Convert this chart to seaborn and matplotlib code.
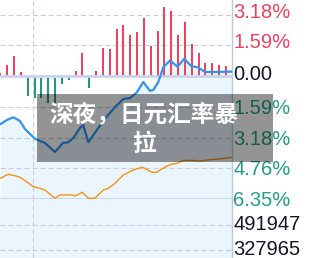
import matplotlib
matplotlib.use("Agg")
import matplotlib.pyplot as plt
import matplotlib.transforms as mtransforms
from matplotlib.patches import Rectangle
import seaborn as sns
import pandas as pd

# ---------------- data ----------------
bar_values = [0.17, 0.57, 1.03, 0.21, -1.02, -1.12, -1.12, -1.39, -1.62, -0.43,
              -0.22, 0.26, 1.20, -0.64, 0.26, 1.43, 1.39, 2.43, 2.63, 2.12,
              2.27, 2.99, 1.56, 2.32, 3.56, 3.36, 2.12, 2.79, 1.65, 1.20,
              0.66, 0.66, 0.57, 0.52]

price_t = [0.0, 0.95, 1.87, 2.85, 3.59, 5.05, 6.52, 7.98, 8.71, 9.11, 9.93, 10.66,
           11.64, 12.12, 12.37, 12.86, 14.32, 15.55, 16.76, 17.98, 18.96, 19.94,
           20.91, 21.89, 22.37, 23.10, 23.84, 24.82, 25.92, 26.90, 27.89, 28.96,
           29.94, 31.65, 33.89]
price_pct = [-2.48, -2.27, -2.13, -2.32, -2.74, -3.24, -3.46, -3.92, -3.63, -3.46,
             -3.42, -3.20, -2.68, -2.53, -2.84, -3.41, -2.68, -2.10, -1.60, -1.19,
             -1.14, -0.85, -0.31, -0.77, -0.72, -0.31, 0.46, 0.80, 0.48, 0.89,
             0.52, 0.44, 0.21, 0.21, 0.23]

avg_t = [0.0, 1.14, 2.12, 2.86, 3.84, 4.80, 5.78, 6.52, 7.98, 8.71, 10.42, 10.91,
         11.98, 12.86, 13.84, 15.05, 15.78, 16.76, 17.98, 19.21, 20.67, 21.16,
         22.14, 22.87, 23.60, 24.82, 25.80, 26.76, 28.23, 29.21, 30.67, 32.14, 33.89]
avg_pct = [-5.28, -5.07, -5.15, -5.23, -5.46, -5.71, -5.80, -5.89, -6.31, -6.14,
           -6.14, -6.20, -6.00, -6.31, -6.31, -5.89, -5.80, -5.54, -5.11, -4.89,
           -4.71, -4.77, -4.97, -4.97, -4.80, -4.57, -4.51, -4.36, -4.36, -4.39,
           -4.32, -4.28, -4.20]

pct_ticks = [3.175, 1.5875, 0.0, -1.5875, -3.175, -4.7625, -6.35]
pct_labels = ["3.18%", "1.59%", "0.00", "1.59%", "3.18%", "4.76%", "6.35%"]
vol_ticks = [491947, 327965]
vol_labels = ["491947", "327965"]
title_lines = ["深夜，日元汇率暴", "拉"]
vgrid_t = [4.8]

# ---------------- style ----------------
sns.set_style("white")
plt.rcParams["font.family"] = ["Liberation Sans", "DejaVu Sans"]
plt.rcParams["lines.scale_dashes"] = False

RED = "#f23c5c"
GREEN = "#1e9672"
RED_LBL = "#f2405e"
GREEN_LBL = "#22a083"
DARK_LBL = "#141428"
BLUE = "#2f95f5"
ORANGE = "#f7920d"
FILL = "#ebf5fe"
BAND = "#c9d5ea"
GRID = "#c6cbe0"
SPINE = "#b9c9e2"

W, H = 312, 258
fig = plt.figure(figsize=(W / 100, H / 100), dpi=100)
fig.patch.set_facecolor("white")

split = 199  # px from top
ax = fig.add_axes([0, (H - split) / H, 232 / W, split / H])
axv = fig.add_axes([0, 0, 232 / W, (H - split) / H], sharex=ax)

xlim = (-0.07, 33.89)
ylim = (-6.35, 3.924)
ax.set_xlim(*xlim)
ax.set_ylim(*ylim)
axv.set_ylim(275491, 662488)
axv.set_facecolor(FILL)
ax.set_facecolor("white")

dash = (0, (3.6, 2.2))

# fill under price line
ax.fill_between(price_t, price_pct, ylim[0], color=FILL, lw=0, zorder=1)

# grids
for y in pct_ticks:
    if y in (0.0, -6.35):
        continue
    ax.axhline(y, color=GRID, lw=0.8, ls=dash, zorder=1.5)
for y in vol_ticks:
    axv.axhline(y, color=GRID, lw=0.8, ls=dash, zorder=1.5)
for t in vgrid_t:
    ax.axvline(t, color=GRID, lw=0.8, ls=dash, zorder=1.5)
    axv.axvline(t, color=GRID, lw=0.8, ls=dash, zorder=1.5)

# bars
bx = list(range(len(bar_values)))
pos = [(x, v) for x, v in zip(bx, bar_values) if v >= 0]
neg = [(x, v) for x, v in zip(bx, bar_values) if v < 0]
ax.vlines([p[0] for p in pos], 0, [p[1] for p in pos], color=RED, lw=1.4, zorder=2)
ax.vlines([p[0] for p in neg], 0, [p[1] for p in neg], color=GREEN, lw=1.4, zorder=2)

# bands
ax.axhline(0, color=BAND, lw=2.0, zorder=3)
ax.axhline(-6.35, color=BAND, lw=2.2, zorder=3, clip_on=False)

# lines
df_p = pd.DataFrame({"t": price_t, "v": price_pct})
df_a = pd.DataFrame({"t": avg_t, "v": avg_pct})
sns.lineplot(data=df_a, x="t", y="v", ax=ax, color=ORANGE, lw=1.0,
             sort=False, estimator=None, zorder=4)
sns.lineplot(data=df_p, x="t", y="v", ax=ax, color=BLUE, lw=1.6,
             sort=False, estimator=None, zorder=5)

for a in (ax, axv):
    a.set_xlabel("")
    a.set_ylabel("")
    a.set_xticks([])
    a.set_yticks([])
    for s in ("top", "left", "bottom"):
        a.spines[s].set_visible(False)
    a.spines["right"].set_visible(True)
    a.spines["right"].set_color(SPINE)
    a.spines["right"].set_linewidth(1.0)

# right labels
fs = 14.5
cap_half = 0.716 * fs * (100 / 72) / 2  # px
def place(a, y, text, color, dy_px=0.0):
    tr = mtransforms.blended_transform_factory(a.transAxes, a.transData)
    off = mtransforms.ScaledTranslation(1.5 / 100, (dy_px - cap_half) / 100,
                                        fig.dpi_scale_trans)
    a.text(1.0, y, text, transform=tr + off, ha="left", va="baseline",
           fontsize=fs, color=color, clip_on=False, zorder=6)

for y, lbl in zip(pct_ticks, pct_labels):
    if y > 0:
        place(ax, y, lbl, RED_LBL, dy_px=4.0)
    elif y == 0:
        place(ax, y, lbl, DARK_LBL, dy_px=3.0)
    else:
        place(ax, y, lbl, GREEN_LBL, dy_px=0.0)
for y, lbl in zip(vol_ticks, vol_labels):
    place(axv, y, lbl, DARK_LBL, dy_px=2.5)

# overlay title box
box = Rectangle((37 / W, (H - 162) / H), 236 / W, 68 / H,
                transform=fig.transFigure, facecolor="black", alpha=0.42,
                edgecolor="none", zorder=10)
fig.add_artist(box)
fig.text(143.8 / W, (H - 121.6) / H, title_lines[0], ha="center", va="baseline",
         fontsize=17, color="white", fontweight="bold",
         family=["Noto Sans CJK SC", "DejaVu Sans"], zorder=11)
fig.text(143.8 / W, (H - 151.3) / H, title_lines[1], ha="center", va="baseline",
         fontsize=17, color="white", fontweight="bold",
         family=["Noto Sans CJK SC", "DejaVu Sans"], zorder=11)

fig.savefig("out.png", dpi=100)
